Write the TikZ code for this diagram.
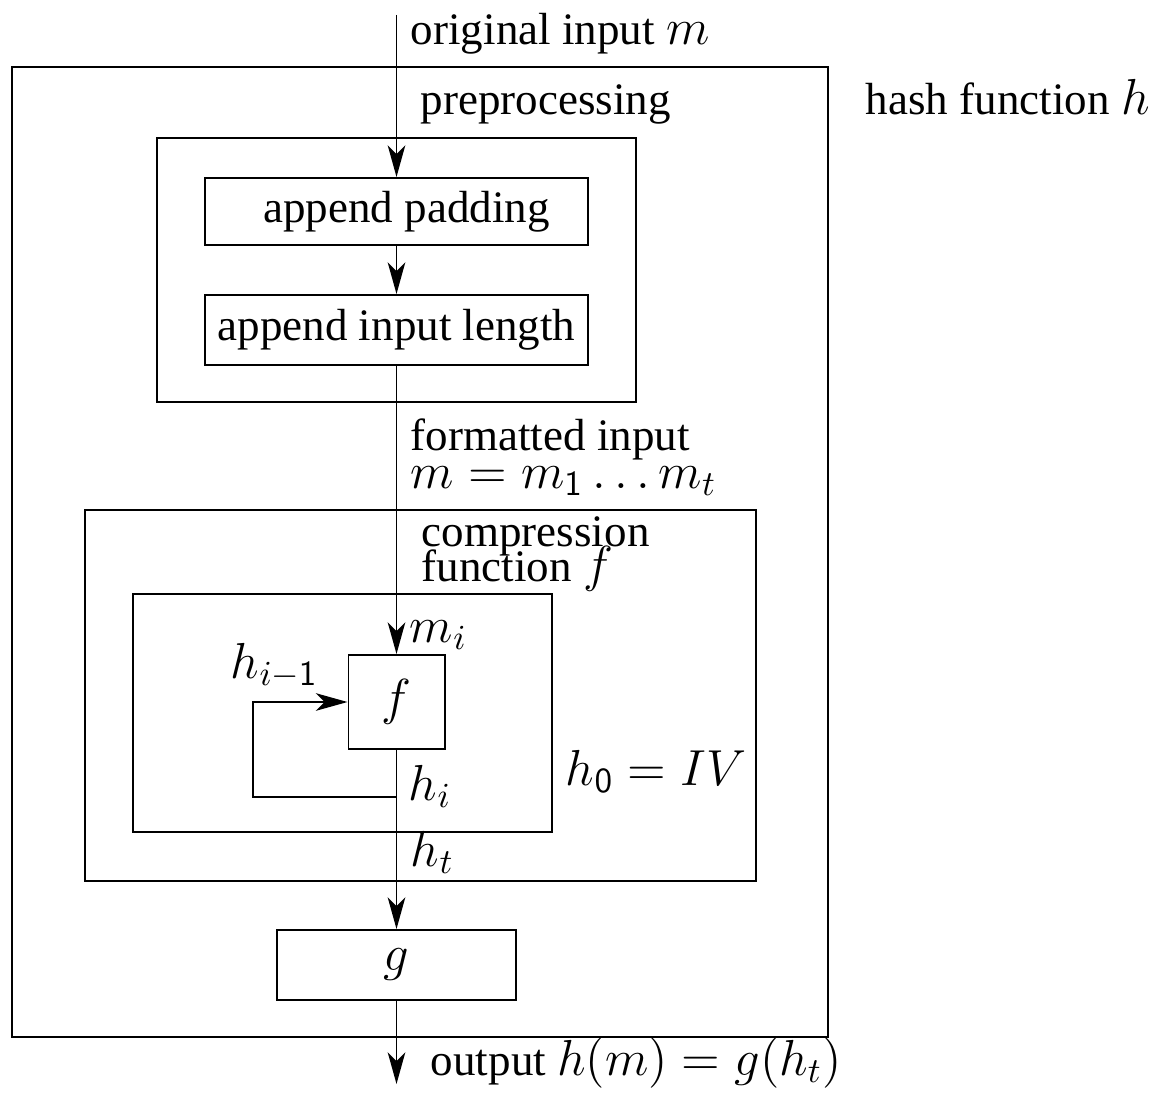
\documentclass[tikz,border=0pt]{standalone}
\usepackage{amsmath}
\usepackage[no-math]{fontspec}
\setmainfont{Liberation Serif}
\usepackage{tikz}
\usetikzlibrary{arrows.meta, calc}

\DeclareMathSizes{12.8}{14.4}{10.4}{8}

\tikzset{
	box/.style = {draw, rectangle, inner sep = 0pt},
	flow/.style = {-{Stealth[length = 9pt, width = 5pt, inset = 2.5pt]}},
	lbl/.style = {anchor = base west, inner sep = 0pt},
}

\begin{document}
\begin{tikzpicture}[x = 0.01cm, y = -0.01cm, line width = 0.55pt, font = \fontsize{12.8}{15}\selectfont]
		\useasboundingbox (0,0) rectangle (1152,1097);
		
		% boxes
		\node [box, minimum width = 8.16cm, minimum height = 9.70cm] (hash) at (420,552) {};
		\node [box, minimum width = 4.79cm, minimum height = 2.64cm] (pre) at (396.5,270) {};
		\node [box, minimum width = 3.83cm, minimum height = 0.67cm] (pad) at (396.5,211.5) {\hspace{0.2cm}append padding};
		\node [box, minimum width = 3.83cm, minimum height = 0.70cm] (len) at (396.5,330) {append input length};
		\node [box, minimum width = 6.71cm, minimum height = 3.71cm] (comp) at (420.5,695.5) {};
		\node [box, minimum width = 4.19cm, minimum height = 2.38cm] (iter) at (342.5,713) {};
		\node [box, minimum width = 0.96cm, minimum height = 0.94cm] (f) at (396.5,702) {$f$};
		\node [box, minimum width = 2.39cm, minimum height = 0.70cm] (g) at (396.5,965) {$g$};
		
		\coordinate (in) at (396.5,15);
		\coordinate (out) at (396.5,1084);
		\coordinate (hi) at (396.5,797);
		\coordinate (back) at (253,797);
		
		% connectors
		\draw [flow] (in) -- (pad);
		\draw [flow] (pad) -- (len);
		\draw [flow] (len) -- (f);
		\draw [flow] (f) -- (g);
		\draw [flow] (g) -- (out);
		\draw [flow] (hi) -- (back) |- (f);
		
		% labels
		\node [lbl] (inlbl) at (410,45) {original input $m$};
		\node [lbl] (hashlbl) at (865,115) {hash function $h$};
		\node [lbl] (prelbl) at (420,115) {preprocessing};
		\node [lbl] (fmtlbl) at (410,450) {formatted input};
		\node [lbl] (fmtm) at (410,488) {$m = m_{\mathsf{1}} \ldots m_t$};
		\node [lbl] (complbl) at (421,546) {compression};
		\node [lbl] (funclbl) at (421,581) {function $f$};
		\node [lbl] (mi) at (409,642) {$m_i$};
		\node [lbl] (hprev) at (230,678) {$h_{i-\mathsf{1}}$};
		\node [lbl] (hilbl) at (408,800) {$h_i$};
		\node [lbl] (iv) at (565,785) {$h_{\mathsf{0}} = IV$};
		\node [lbl] (ht) at (410,866) {$h_t$};
		\node [lbl] (outlbl) at (430,1075) {output $h(m) = g(h_t)$};
	\end{tikzpicture}
\end{document}
